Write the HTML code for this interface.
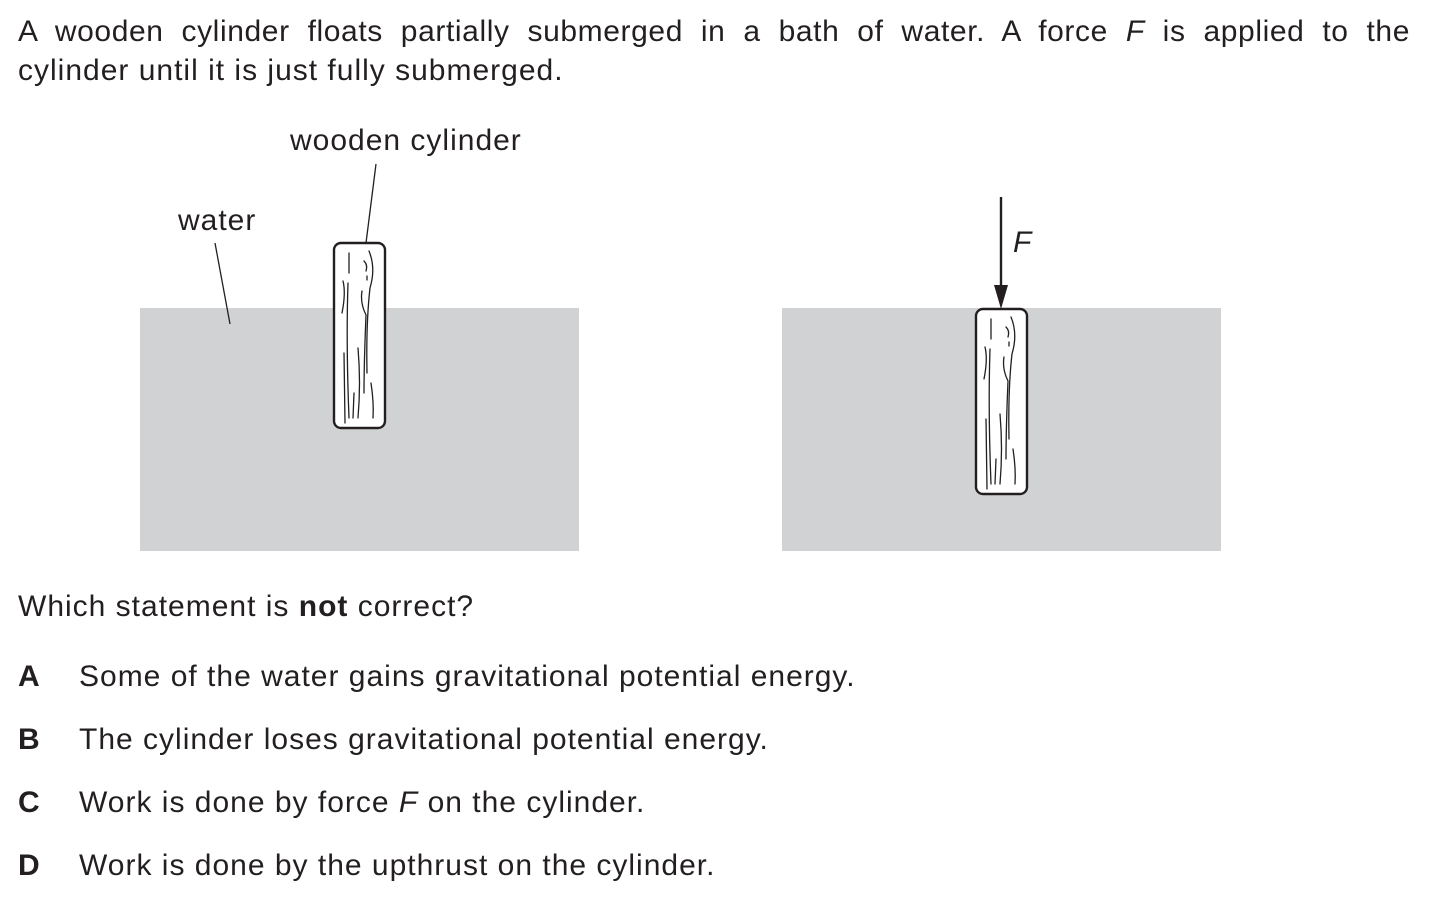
<!DOCTYPE html>
<html><head><style>
body{margin:0;width:1447px;height:903px;background:#fff;position:relative;font-family:"Liberation Sans",Arial,sans-serif;color:#231f20;overflow:hidden}
.t{position:absolute;font-size:30px;letter-spacing:1px;white-space:nowrap;line-height:32px}
</style></head><body>
<div class="t" style="left:18px;top:16px;width:1392px;text-align:justify;text-align-last:justify;white-space:normal;letter-spacing:0.6px">A wooden cylinder floats partially submerged in a bath of water. A force <i>F</i> is applied to the</div>
<div class="t" style="left:18px;top:55px">cylinder until it is just fully submerged.</div>
<div class="t" style="left:290px;top:125px">wooden cylinder</div>
<div class="t" style="left:178px;top:205px">water</div>
<div class="t" style="left:1013px;top:227px"><i>F</i></div>
<svg style="position:absolute;left:0;top:0" width="1447" height="903">
<defs>
<g id="cyl" fill="none" stroke="#231f20" stroke-width="1.3" stroke-linecap="round">
<rect x="0" y="0" width="51" height="185" rx="7" fill="#fff" stroke-width="2.4"/>
<path d="M15 10 L15 30"/>
<path d="M9 38 Q12 50 8 70"/>
<path d="M14 40 Q12 100 15 175"/>
<path d="M10 110 L11 180"/>
<path d="M28 48 Q26 60 32 72 Q30 120 30 150"/>
<path d="M35 8 Q42 25 36 45 Q32 80 33 130"/>
<path d="M30 18 Q34 22 32 28"/>
<path d="M33 33 L33 37"/>
<path d="M24 105 Q27 140 24 175"/>
<path d="M37 140 Q40 160 39 175"/>
<path d="M20 150 L19 175"/>
</g>
</defs>
<rect x="140" y="308" width="439" height="243" fill="#d1d2d4"/>
<rect x="782" y="308" width="439" height="243" fill="#d1d2d4"/>
<use href="#cyl" x="334" y="243"/>
<use href="#cyl" x="976" y="309"/>
<line x1="376" y1="164" x2="366" y2="243" stroke="#231f20" stroke-width="1.3"/>
<line x1="215" y1="243" x2="230" y2="324" stroke="#231f20" stroke-width="1.3"/>
<line x1="1001" y1="197" x2="1001" y2="290" stroke="#231f20" stroke-width="2.4"/>
<polygon points="994,285 1008,285 1001,309" fill="#231f20"/>
</svg>
<div class="t" style="left:18px;top:591px">Which statement is <b>not</b> correct?</div>
<div class="t" style="left:18px;top:661px"><b>A</b></div><div class="t" style="left:79px;top:661px">Some of the water gains gravitational potential energy.</div>
<div class="t" style="left:18px;top:724px"><b>B</b></div><div class="t" style="left:79px;top:724px">The cylinder loses gravitational potential energy.</div>
<div class="t" style="left:18px;top:787px"><b>C</b></div><div class="t" style="left:79px;top:787px">Work is done by force <i>F</i> on the cylinder.</div>
<div class="t" style="left:18px;top:850px"><b>D</b></div><div class="t" style="left:79px;top:850px">Work is done by the upthrust on the cylinder.</div>
</body></html>
